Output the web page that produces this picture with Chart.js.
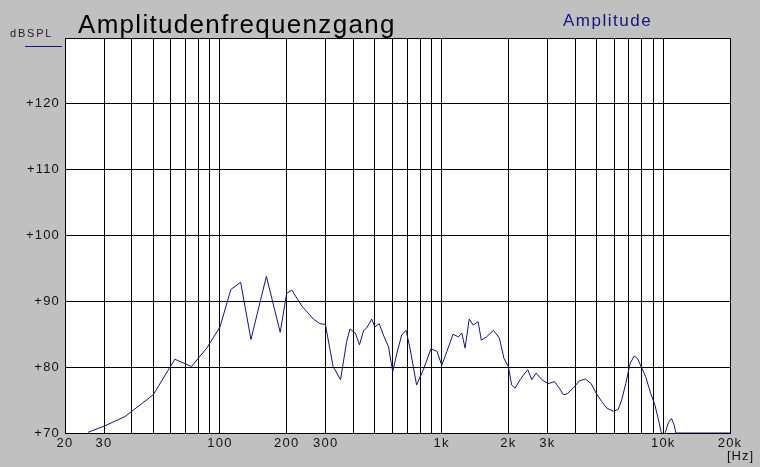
<!DOCTYPE html>
<html>
<head>
<meta charset="utf-8">
<script src="https://cdn.jsdelivr.net/npm/chart.js@4"></script>
<style>
  html, body { margin: 0; padding: 0; background: #c0c0c0; }
  #wrap { position: relative; width: 760px; height: 467px; background: #c0c0c0; overflow: hidden; }
  #wrap canvas { position: absolute; left: 0; top: 0; }
  .lbl { position: absolute; font-family: "Liberation Sans", Arial, sans-serif; white-space: nowrap; }
  #title { left: 78px; top: 11px; font-size: 26px; line-height: 26px; letter-spacing: 1.3px; color: #000; }
  #legend { left: 563px; top: 12px; font-size: 17px; line-height: 17px; letter-spacing: 1.5px; color: #14147e; }
  #unit { left: 10px; top: 28px; font-size: 11px; line-height: 11px; letter-spacing: 1.8px; color: #222; }
  #unitLine { position: absolute; left: 25px; top: 46px; width: 37px; height: 1px; background: #14147e; }
  #hz { left: 727px; top: 449px; font-size: 13px; line-height: 13px; letter-spacing: 1px; color: #111; }
</style>
</head>
<body>
<div id="wrap">
  <canvas id="freqChart" width="760" height="467"></canvas>
  <div class="lbl" id="title">Amplitudenfrequenzgang</div>
  <div class="lbl" id="legend">Amplitude</div>
  <div class="lbl" id="unit">dBSPL</div>
  <div id="unitLine"></div>
  <div class="lbl" id="hz">[Hz]</div>
</div>
<script>
// ------------------------- DATA -------------------------
// frequency (Hz) and level (dB SPL)
const freqHz = [
  25.4, 30.3, 37.3, 50, 62.6, 74.4, 87.2, 100, 112, 124,
  138, 162, 187, 200, 211, 234, 264, 283, 299, 324,
  350, 373, 386, 408, 426, 445, 458, 484, 500, 523,
  546, 576, 602, 628, 661, 691, 720, 771, 827, 895,
  953, 1002, 1057, 1126, 1192, 1233, 1276, 1332, 1390, 1461,
  1511, 1594, 1714, 1823, 1912, 2000, 2070, 2144, 2262, 2340,
  2448, 2553, 2669, 2831, 3023, 3231, 3400, 3545, 3703, 3967,
  4177, 4453, 4727, 4990, 5265, 5555, 5957, 6264, 6491, 6772,
  7090, 7400, 7660, 8020, 8320, 8780, 9160, 9590, 9770, 10000,
  10200, 10550, 10900, 11200, 11400, 20000
];
const levelDb = [
  70.1, 71.1, 72.5, 75.8, 81.2, 80.1, 82.9, 86.1, 91.8, 92.9,
  84.2, 93.8, 85.3, 91.2, 91.7, 89.3, 87.3, 86.6, 86.5, 80.1,
  78.1, 83.9, 85.8, 85.2, 83.4, 85.6, 85.9, 87.3, 86.1, 86.6,
  84.9, 83.1, 79.3, 82.1, 84.9, 85.6, 82.9, 77.3, 79.6, 82.8,
  82.4, 80.3, 82.4, 85.0, 84.6, 85.2, 82.9, 87.3, 86.4, 86.9,
  84.1, 84.6, 85.6, 84.4, 81.3, 80.1, 77.3, 76.8, 78.1, 78.8,
  79.6, 78.1, 79.1, 78.1, 77.5, 77.8, 76.8, 75.8, 76.0, 77.0,
  77.9, 78.2, 77.5, 76.0, 74.8, 73.8, 73.3, 73.6, 75.0, 77.5,
  80.6, 81.7, 81.3, 79.8, 78.6, 76.0, 74.3, 71.5, 70.2, 69.3,
  70.0, 71.6, 72.2, 71.2, 70.0, 70.0
];

// grid ticks and labels
const xGrid = [20, 30, 40, 50, 60, 70, 80, 90,
               100, 200, 300, 400, 500, 600, 700, 800, 900,
               1000, 2000, 3000, 4000, 5000, 6000, 7000, 8000, 9000,
               10000, 20000];
const xLabels = { 20: '20', 30: '30', 100: '100', 200: '200', 300: '300',
                  1000: '1k', 2000: '2k', 3000: '3k', 10000: '10k', 20000: '20k' };
const yGrid = [70, 80, 90, 100, 110, 120, 130];

// ------------------------- PLUGINS -------------------------
const plotBg = {
  id: 'plotBg',
  beforeDraw(chart) {
    const { ctx, chartArea: a } = chart;
    ctx.save();
    ctx.fillStyle = '#ffffff';
    ctx.fillRect(a.left, a.top, a.right - a.left, a.bottom - a.top);
    ctx.restore();
    ctx.letterSpacing = '1.2px'; // old-style wide tick digits
  }
};

// ------------------------- CHART -------------------------
const tickFont = { family: '"Liberation Sans", Arial, sans-serif', size: 13 };

new Chart(document.getElementById('freqChart').getContext('2d'), {
  type: 'line',
  data: {
    labels: freqHz,
    datasets: [{
      label: 'Amplitude',
      data: freqHz.map((f, i) => ({ x: f, y: levelDb[i] })),
      borderColor: '#14147e',
      borderWidth: 1,
      pointRadius: 0,
      tension: 0,
      fill: false
    }]
  },
  options: {
    responsive: false,
    animation: false,
    layout: { padding: { left: 0, right: 30, top: 38, bottom: 0 } },
    plugins: { legend: { display: false }, tooltip: { enabled: false } },
    scales: {
      x: {
        type: 'logarithmic',
        min: 20,
        max: 20000,
        afterBuildTicks: s => { s.ticks = xGrid.map(v => ({ value: v })); },
        afterFit: s => { s.height = 34; },
        ticks: {
          autoSkip: false,
          maxRotation: 0,
          minRotation: 0,
          padding: 3,
          color: '#111',
          font: tickFont,
          callback: v => xLabels[v] || ''
        },
        grid: { color: '#000', lineWidth: 1, drawTicks: false },
        border: { color: '#000', width: 1 }
      },
      y: {
        min: 70,
        max: 130,
        afterBuildTicks: s => { s.ticks = yGrid.map(v => ({ value: v })); },
        afterFit: s => { s.width = 65; },
        ticks: {
          padding: 5,
          color: '#111',
          font: tickFont,
          callback: v => (v === 130 ? '' : '+' + v)
        },
        grid: { color: '#000', lineWidth: 1, drawTicks: false },
        border: { color: '#000', width: 1 }
      }
    }
  },
  plugins: [plotBg]
});
</script>
</body>
</html>
